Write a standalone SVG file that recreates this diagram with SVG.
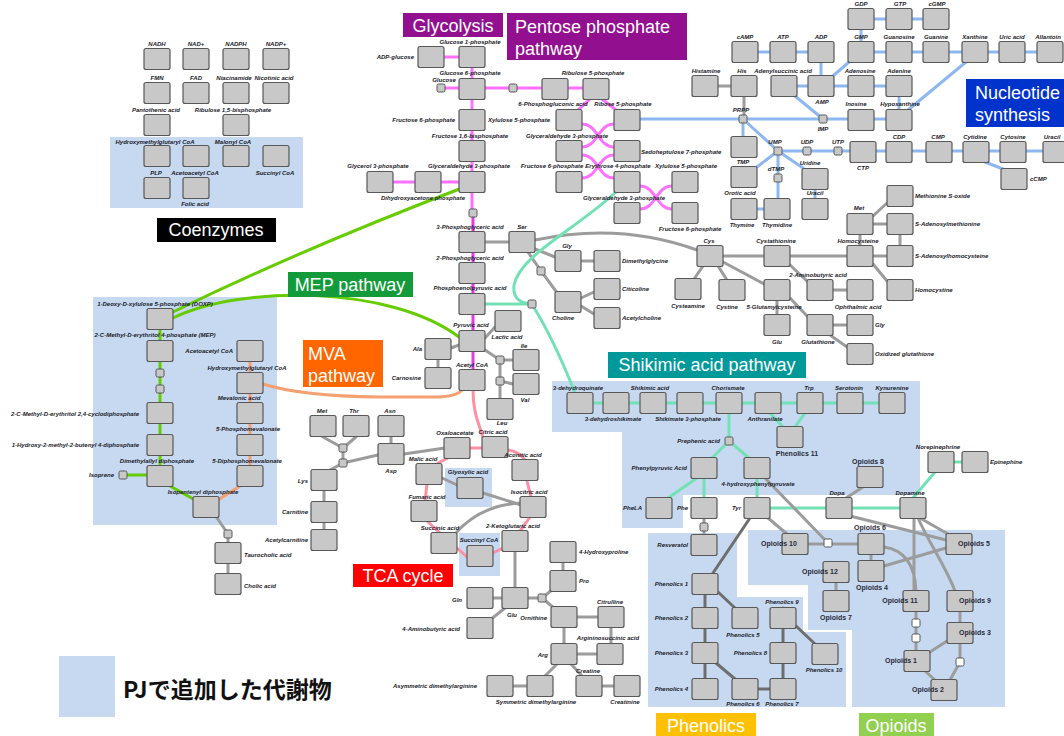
<svg xmlns="http://www.w3.org/2000/svg" width="1064" height="736" viewBox="0 0 1064 736">
<style>
.n{fill:#c8c8c8;stroke:#585858;stroke-width:1.2}
.s{fill:#c8c8c8;stroke:#585858;stroke-width:1}
.w{fill:#ffffff;stroke:#585858;stroke-width:1}
.t{font-family:"Liberation Sans",Arial,sans-serif;font-size:6px;font-weight:bold;font-style:italic;fill:#1a1a28;text-anchor:middle}
.e{text-anchor:end}
.b{text-anchor:start}
.o{font-family:"Liberation Sans",Arial,sans-serif;font-size:7px;font-weight:bold;fill:#2a2a3a;text-anchor:middle}
.rg{fill:#c6d9f0}
.pl{font-family:"Liberation Sans",Arial,sans-serif;fill:#ffffff;font-size:18px}
#connectors path{fill:none;stroke-width:3;stroke-linecap:round}
.gr{stroke:#9c9c9c}
.gd{stroke:#6e6e6e}
.pk{stroke:#ff70ff}
.mg{stroke:#e03ce0}
.tc{stroke:#ff8fa3}
.bl{stroke:#8db8ef}
.tl{stroke:#72e2b6}
.gn{stroke:#66cc00}
.or{stroke:#f5a070}
</style>
<rect width="1064" height="736" fill="#ffffff"/>
<g id="regions">
<rect class="rg" x="110" y="137" width="193" height="71"/>
<rect class="rg" x="93" y="297" width="184" height="228"/>
<rect class="rg" x="445" y="468" width="47" height="39"/>
<rect class="rg" x="459" y="533" width="41" height="43"/>
<polygon class="rg" points="552,381 920,381 920,495 683,495 683,528 622,528 622,432 552,432"/>
<polygon class="rg" points="648,533 737,533 737,597 803,597 803,632 846,632 846,707 648,707"/>
<polygon class="rg" points="748,530 1005,530 1005,707 852,707 852,630 808,630 808,585 748,585"/>
</g>
<g id="connectors">
<path class="pk" d="M431,57 H472 M472,57 V213 M441,88 H596 M380,182 H472 M590,99 L578,110 M602,99 L616,110 M582,124 C598,124 598,147 614,147 M582,147 C598,147 598,124 614,124 M582,155 C598,155 598,178 614,178 M582,178 C598,178 598,155 614,155 M640,186 C656,186 656,209 672,209 M640,209 C656,209 656,186 672,186"/>
<path class="mg" d="M473,213 V380"/>
<path class="tc" d="M473,390 C473,415 480,425 483,438 M470,448 H483 M508,450 Q520,452 525,460 M527,481 L531,497 M530,517 L520,531 M503,548 L493,553 M467,557 L457,548 M440,533 L428,522 M425,501 L427,484 M438,463 L448,458"/>
<path class="gr" d="M442,478 L457,485 M483,493 L521,505 M455,534 Q480,505 521,503 M404,454 L445,448 M323,437 L343,448 M356,437 L343,448 M343,448 V463 L330,470 M343,463 L378,455 M391,437 V444 M324,480 V540"/>
<path class="gr" d="M515,552 V588 M493,598 H502 M505,608 L490,620 M528,598 H542 M542,598 L552,590 M542,598 L554,608 M563,562 V571 M577,617 H598 M611,627 V644 M597,654 H577 M564,627 V644 M557,664 L545,676 M571,664 L582,676 M527,686 H513 M602,686 H614"/>
<path class="gr" d="M485,242 H510 M535,240 Q620,222 697,250 M535,249 L555,257 M528,252 L541,271 L558,294 M581,261 H594 M581,298 L594,292 M581,306 L594,314 M485,338 L495,327 M459,345 L451,348 M438,359 V368 M485,350 L500,360 V381 M500,360 H513 M500,381 L513,384 M500,381 V399"/>
<path class="gr" d="M723,256 H764 M790,256 H847 M873,256 H887 M860,234 V246 M873,224 H887 M900,234 V246 M873,216 L887,203 M873,264 L887,281 M703,266 L694,279 M718,266 L727,280 M723,262 L764,284 M790,265 L807,281 M833,290 H847 M777,300 V315 M790,298 L807,316 M833,325 H847 M830,335 L847,347 M718,86 H731 M744,96 V119"/>
<path class="bl" d="M861,19 H936 M861,29 V42 M745,52 H821 M821,62 V76 M861,52 H1050 M849,62 L833,76 M784,86 H899 M899,96 V110 M908,110 L966,62 M795,96 L823,119 M640,119 H899 M743,119 V137 M743,119 L778,151 M778,151 H1043 M985,162 L1003,169 M778,151 L757,167 M778,151 V199 M764,209 H757 M778,151 L803,168 M815,189 V199"/>
<path class="tl" d="M616,192 C575,230 520,255 514,285 Q512,303 532,304 M485,304 H532 M533,306 C548,330 560,355 575,393 M580,403 H892 M729,413 V441 M770,413 L783,427 M805,413 L795,427 M729,441 L712,458 M729,441 L749,458 M697,478 L668,498 M704,478 V498 M757,478 V498 M757,508 H913 M913,498 L935,472 M941,462 H975"/>
<path class="gr" d="M704,518 V535 M765,478 L828,543 M808,544 H858 M768,518 L787,534 M850,516 L946,540 M920,518 L948,534 M914,518 V591 M918,518 C930,545 945,565 955,591 M863,487 L846,498 M871,554 V561 M884,566 L946,548 M884,547 C905,550 915,565 916,591 M836,582 V591 M916,611 V651 M960,611 V623 M947,641 L930,652 M960,643 V662 L950,680 M925,671 L935,680 M215,515 L228,534 V584"/>
<path class="gd" d="M750,518 L713,573 M705,594 V678 M718,592 L735,608 M716,663 L735,679 M758,689 H770 M783,679 V608 M796,626 L815,644"/>
<path class="gn" d="M160,319 V476 M123,475 H147 M170,486 L195,500 M462,188 Q300,250 173,312 M173,318 C240,285 390,285 459,337"/>
<path class="or" d="M250,351 V476 M240,486 L218,500 M263,384 Q300,396 380,397 L440,397 Q458,396 463,389"/>
</g>
<g id="pathway-labels">
<rect x="403" y="13" width="100" height="24" fill="#92108f"/><text class="pl" x="453" y="32" text-anchor="middle" font-size="19">Glycolysis</text>
<rect x="507" y="13" width="180" height="47" fill="#92108f"/><text class="pl" x="515" y="33" font-size="19">Pentose phosphate</text><text class="pl" x="515" y="55" font-size="19">pathway</text>
<rect x="966" y="79" width="98" height="48" fill="#0033cc"/><text class="pl" x="975" y="99" font-size="19">Nucleotide</text><text class="pl" x="975" y="121" font-size="19">synthesis</text>
<rect x="157" y="218" width="119" height="24" fill="#000000"/><text class="pl" x="216" y="236" text-anchor="middle" font-size="17">Coenzymes</text>
<rect x="288" y="272" width="125" height="25" fill="#139a3a"/><text class="pl" x="350" y="291" text-anchor="middle" font-size="17">MEP pathway</text>
<rect x="303" y="340" width="80" height="47" fill="#ff6600"/><text class="pl" x="308" y="360">MVA</text><text class="pl" x="308" y="382">pathway</text>
<rect x="608" y="352" width="198" height="26" fill="#00999a"/><text class="pl" x="707" y="371" text-anchor="middle">Shikimic acid pathway</text>
<rect x="353" y="564" width="100" height="23" fill="#ff0000"/><text class="pl" x="403" y="582" text-anchor="middle" font-size="17">TCA cycle</text>
<rect x="656" y="713" width="100" height="23" fill="#ffc000"/><text class="pl" x="706" y="732" text-anchor="middle">Phenolics</text>
<rect x="859" y="713" width="75" height="23" fill="#92d050"/><text class="pl" x="896" y="732" text-anchor="middle">Opioids</text>
</g>
<g id="legend">
<rect class="rg" x="59" y="656" width="56" height="61"/>
<text x="123" y="698" font-family="'Noto Sans CJK JP','Noto Sans',sans-serif" font-size="23" font-weight="bold" fill="#111">PJで追加した代謝物</text>
</g>
<g id="nodes">
<g id="n_nadh"><rect class="n" x="144" y="48.5" width="26" height="21" rx="2"/><text class="t" x="157" y="46">NADH</text></g>
<g id="n_nad"><rect class="n" x="183" y="48.5" width="26" height="21" rx="2"/><text class="t" x="196" y="46">NAD+</text></g>
<g id="n_nadph"><rect class="n" x="223" y="48.5" width="26" height="21" rx="2"/><text class="t" x="236" y="46">NADPH</text></g>
<g id="n_nadp"><rect class="n" x="263" y="48.5" width="26" height="21" rx="2"/><text class="t" x="276" y="46">NADP+</text></g>
<g id="n_fmn"><rect class="n" x="144" y="82.5" width="26" height="21" rx="2"/><text class="t" x="157" y="80">FMN</text></g>
<g id="n_fad"><rect class="n" x="183" y="82.5" width="26" height="21" rx="2"/><text class="t" x="196" y="80">FAD</text></g>
<g id="n_niacinamide"><rect class="n" x="223" y="82.5" width="26" height="21" rx="2"/><text class="t" x="234" y="80">Niacinamide</text></g>
<g id="n_nicotinic"><rect class="n" x="263" y="82.5" width="26" height="21" rx="2"/><text class="t" x="274" y="80">Nicotinic acid</text></g>
<g id="n_pantothenic"><rect class="n" x="144" y="114.5" width="26" height="21" rx="2"/><text class="t" x="156" y="112">Pantothenic acid</text></g>
<g id="n_rubp"><rect class="n" x="223" y="114.5" width="26" height="21" rx="2"/><text class="t" x="233" y="112">Ribulose 1,5-bisphosphate</text></g>
<g id="n_hmgcoa_c"><rect class="n" x="144" y="145.5" width="26" height="21" rx="2"/><text class="t" x="155" y="144">Hydroxymethylglutaryl CoA</text></g>
<g id="n_acacoa_c"><rect class="n" x="183" y="145.5" width="26" height="21" rx="2"/><text class="t" x="195" y="175">Acetoacetyl CoA</text></g>
<g id="n_malonyl"><rect class="n" x="223" y="145.5" width="26" height="21" rx="2"/><text class="t" x="233" y="144">Malonyl CoA</text></g>
<g id="n_succcoa_c"><rect class="n" x="263" y="145.5" width="26" height="21" rx="2"/><text class="t" x="275" y="175">Succinyl CoA</text></g>
<g id="n_plp"><rect class="n" x="144" y="177.5" width="26" height="21" rx="2"/><text class="t" x="156" y="175">PLP</text></g>
<g id="n_folic"><rect class="n" x="183" y="177.5" width="26" height="21" rx="2"/><text class="t" x="195" y="206">Folic acid</text></g>

<g id="n_adpglc"><rect class="n" x="418" y="46.5" width="26" height="21" rx="2"/><text class="t e" x="414" y="59">ADP-glucose</text></g>
<g id="n_g1p"><rect class="n" x="459" y="46.5" width="26" height="21" rx="2"/><text class="t" x="470" y="44">Glucose 1-phosphate</text></g>
<g id="n_g6p"><rect class="n" x="459" y="78.5" width="26" height="21" rx="2"/><text class="t" x="470" y="75">Glucose 6-phosphate</text></g>
<g id="n_glucose"><rect class="s" x="437" y="84" width="8" height="8" rx="1.5"/><text class="t" x="444" y="82">Glucose</text></g>
<g id="n_ppp_i"><rect class="s" x="509" y="84" width="8" height="8" rx="1.5"/></g>
<g id="n_6pg"><rect class="n" x="542" y="78.5" width="26" height="21" rx="2"/><text class="t" x="553" y="106">6-Phosphogluconic acid</text></g>
<g id="n_ru5p"><rect class="n" x="583" y="78.5" width="26" height="21" rx="2"/><text class="t" x="593" y="75">Ribulose 5-phosphate</text></g>
<g id="n_f6p"><rect class="n" x="459" y="109.5" width="26" height="21" rx="2"/><text class="t e" x="455" y="122">Fructose 6-phosphate</text></g>
<g id="n_xu5p"><rect class="n" x="556" y="109.5" width="26" height="21" rx="2"/><text class="t e" x="550" y="122">Xylulose 5-phosphate</text></g>
<g id="n_r5p"><rect class="n" x="614" y="109.5" width="26" height="21" rx="2"/><text class="t" x="623" y="106">Ribose 5-phosphate</text></g>
<g id="n_f16bp"><rect class="n" x="459" y="140.5" width="26" height="21" rx="2"/><text class="t" x="470" y="138">Fructose 1,6-bisphosphate</text></g>
<g id="n_gap2"><rect class="n" x="556" y="140.5" width="26" height="21" rx="2"/><text class="t" x="567" y="138">Glyceraldehyde 3-phosphate</text></g>
<g id="n_s7p"><rect class="n" x="614" y="140.5" width="26" height="21" rx="2"/><text class="t b" x="641" y="154">Sedoheptulose 7-phosphate</text></g>
<g id="n_gap"><rect class="n" x="459" y="171.5" width="26" height="21" rx="2"/><text class="t" x="469" y="168">Glyceraldehyde 3-phosphate</text></g>
<g id="n_dhap"><rect class="n" x="415" y="171.5" width="26" height="21" rx="2"/><text class="t" x="423" y="200">Dihydroxyacetone phosphate</text></g>
<g id="n_g3p"><rect class="n" x="367" y="171.5" width="26" height="21" rx="2"/><text class="t" x="378" y="168">Glycerol 3-phosphate</text></g>
<g id="n_f6p2"><rect class="n" x="556" y="171.5" width="26" height="21" rx="2"/><text class="t" x="552" y="168">Fructose 6-phosphate</text></g>
<g id="n_e4p"><rect class="n" x="614" y="171.5" width="26" height="21" rx="2"/><text class="t" x="618" y="168">Erythrose 4-phosphate</text></g>
<g id="n_x5p2"><rect class="n" x="672" y="171.5" width="26" height="21" rx="2"/><text class="t" x="686" y="168">Xylulose 5-phosphate</text></g>
<g id="n_gap3"><rect class="n" x="614" y="202.5" width="26" height="21" rx="2"/><text class="t" x="624" y="200">Glyceraldehyde 3-phosphate</text></g>
<g id="n_f6p3"><rect class="n" x="672" y="202.5" width="26" height="21" rx="2"/><text class="t" x="690" y="231">Fructose 6-phosphate</text></g>
<g id="n_gly_i"><rect class="s" x="469" y="209" width="8" height="8" rx="1.5"/></g>
<g id="n_3pg"><rect class="n" x="459" y="231.5" width="26" height="21" rx="2"/><text class="t" x="470" y="229">3-Phosphoglyceric acid</text></g>
<g id="n_2pg"><rect class="n" x="459" y="262.5" width="26" height="21" rx="2"/><text class="t" x="470" y="260">2-Phosphoglyceric acid</text></g>
<g id="n_pep"><rect class="n" x="459" y="293.5" width="26" height="21" rx="2"/><text class="t" x="470" y="290">Phosphoenolpyruvic acid</text></g>
<g id="n_pyr"><rect class="n" x="459" y="330.5" width="26" height="21" rx="2"/><text class="t" x="471" y="327">Pyruvic acid</text></g>
<g id="n_accoa"><rect class="n" x="459" y="369.5" width="26" height="21" rx="2"/><text class="t" x="472" y="367">Acetyl CoA</text></g>
<g id="n_lactic"><rect class="n" x="495" y="310.5" width="26" height="21" rx="2"/><text class="t" x="507" y="339">Lactic acid</text></g>
<g id="n_ala"><rect class="n" x="425" y="338.5" width="26" height="21" rx="2"/><text class="t e" x="422" y="351">Ala</text></g>
<g id="n_carnosine"><rect class="n" x="425" y="367.5" width="26" height="21" rx="2"/><text class="t e" x="421" y="380">Carnosine</text></g>
<g id="n_bcaa_i1"><rect class="s" x="496" y="356" width="8" height="8" rx="1.5"/></g>
<g id="n_bcaa_i2"><rect class="s" x="496" y="377" width="8" height="8" rx="1.5"/></g>
<g id="n_ile"><rect class="n" x="513" y="349.5" width="26" height="21" rx="2"/><text class="t" x="524" y="348">Ile</text></g>
<g id="n_val"><rect class="n" x="513" y="373.5" width="26" height="21" rx="2"/><text class="t" x="525" y="402">Val</text></g>
<g id="n_leu"><rect class="n" x="487" y="398.5" width="26" height="21" rx="2"/><text class="t" x="502" y="425">Leu</text></g>
<g id="n_ser"><rect class="n" x="509" y="231.5" width="26" height="21" rx="2"/><text class="t" x="522" y="229">Ser</text></g>
<g id="n_gly"><rect class="n" x="555" y="250.5" width="26" height="21" rx="2"/><text class="t" x="567" y="248">Gly</text></g>
<g id="n_dmg"><rect class="n" x="594" y="250.5" width="26" height="21" rx="2"/><text class="t b" x="622" y="263">Dimethylglycine</text></g>
<g id="n_ser_i"><rect class="s" x="537" y="267" width="8" height="8" rx="1.5"/></g>
<g id="n_choline"><rect class="n" x="555" y="291.5" width="26" height="21" rx="2"/><text class="t" x="563" y="320">Choline</text></g>
<g id="n_citicoline"><rect class="n" x="594" y="278.5" width="26" height="21" rx="2"/><text class="t b" x="622" y="291">Citicoline</text></g>
<g id="n_achol"><rect class="n" x="594" y="307.5" width="26" height="21" rx="2"/><text class="t b" x="622" y="320">Acetylcholine</text></g>
<g id="n_pep_i"><rect class="s" x="528" y="300" width="8" height="8" rx="1.5"/></g>
<g id="n_cysteamine"><rect class="n" x="675" y="278.5" width="26" height="21" rx="2"/><text class="t" x="688" y="308">Cysteamine</text></g>
<g id="n_cys"><rect class="n" x="697" y="245.5" width="26" height="21" rx="2"/><text class="t" x="709" y="243">Cys</text></g>
<g id="n_cystathionine"><rect class="n" x="764" y="245.5" width="26" height="21" rx="2"/><text class="t" x="776" y="243">Cystathionine</text></g>
<g id="n_hcy"><rect class="n" x="847" y="245.5" width="26" height="21" rx="2"/><text class="t" x="858" y="243">Homocysteine</text></g>
<g id="n_sah"><rect class="n" x="887" y="245.5" width="26" height="21" rx="2"/><text class="t b" x="915" y="258">S-Adenosylhomocysteine</text></g>
<g id="n_met"><rect class="n" x="847" y="213.5" width="26" height="21" rx="2"/><text class="t" x="859" y="210">Met</text></g>
<g id="n_sam"><rect class="n" x="887" y="213.5" width="26" height="21" rx="2"/><text class="t b" x="915" y="226">S-Adenosylmethionine</text></g>
<g id="n_metso"><rect class="n" x="887" y="185.5" width="26" height="21" rx="2"/><text class="t b" x="915" y="198">Methionine S-oxide</text></g>
<g id="n_homocystine"><rect class="n" x="887" y="279.5" width="26" height="21" rx="2"/><text class="t b" x="915" y="292">Homocystine</text></g>
<g id="n_cystine"><rect class="n" x="719" y="279.5" width="26" height="21" rx="2"/><text class="t" x="727" y="309">Cystine</text></g>
<g id="n_gglucys"><rect class="n" x="764" y="279.5" width="26" height="21" rx="2"/><text class="t" x="774" y="309">5-Glutamylcysteine</text></g>
<g id="n_2ab"><rect class="n" x="807" y="279.5" width="26" height="21" rx="2"/><text class="t" x="818" y="277">2-Aminobutyric acid</text></g>
<g id="n_ophthalmic"><rect class="n" x="847" y="279.5" width="26" height="21" rx="2"/><text class="t" x="858" y="309">Ophthalmic acid</text></g>
<g id="n_glu2"><rect class="n" x="764" y="314.5" width="26" height="21" rx="2"/><text class="t" x="777" y="344">Glu</text></g>
<g id="n_gsh"><rect class="n" x="807" y="314.5" width="26" height="21" rx="2"/><text class="t" x="818" y="344">Glutathione</text></g>
<g id="n_gly2"><rect class="n" x="847" y="314.5" width="26" height="21" rx="2"/><text class="t b" x="875" y="327">Gly</text></g>
<g id="n_gssg"><rect class="n" x="847" y="343.5" width="26" height="21" rx="2"/><text class="t b" x="875" y="356">Oxidized glutathione</text></g>

<g id="n_gdp"><rect class="n" x="848" y="8.5" width="26" height="21" rx="2"/><text class="t" x="861" y="6">GDP</text></g>
<g id="n_gtp"><rect class="n" x="886" y="8.5" width="26" height="21" rx="2"/><text class="t" x="900" y="6">GTP</text></g>
<g id="n_cgmp"><rect class="n" x="923" y="8.5" width="26" height="21" rx="2"/><text class="t" x="937" y="6">cGMP</text></g>
<g id="n_camp"><rect class="n" x="732" y="41.5" width="26" height="21" rx="2"/><text class="t" x="745" y="39">cAMP</text></g>
<g id="n_atp"><rect class="n" x="770" y="41.5" width="26" height="21" rx="2"/><text class="t" x="783" y="39">ATP</text></g>
<g id="n_adp"><rect class="n" x="808" y="41.5" width="26" height="21" rx="2"/><text class="t" x="821" y="39">ADP</text></g>
<g id="n_gmp"><rect class="n" x="848" y="41.5" width="26" height="21" rx="2"/><text class="t" x="861" y="39">GMP</text></g>
<g id="n_guanosine"><rect class="n" x="886" y="41.5" width="26" height="21" rx="2"/><text class="t" x="899" y="39">Guanosine</text></g>
<g id="n_guanine"><rect class="n" x="923" y="41.5" width="26" height="21" rx="2"/><text class="t" x="936" y="39">Guanine</text></g>
<g id="n_xanthine"><rect class="n" x="962" y="41.5" width="26" height="21" rx="2"/><text class="t" x="975" y="39">Xanthine</text></g>
<g id="n_uric"><rect class="n" x="999" y="41.5" width="26" height="21" rx="2"/><text class="t" x="1012" y="39">Uric acid</text></g>
<g id="n_allantoin"><rect class="n" x="1037" y="41.5" width="26" height="21" rx="2"/><text class="t" x="1048" y="39">Allantoin</text></g>
<g id="n_histamine"><rect class="n" x="692" y="75.5" width="26" height="21" rx="2"/><text class="t" x="706" y="73">Histamine</text></g>
<g id="n_his"><rect class="n" x="731" y="75.5" width="26" height="21" rx="2"/><text class="t" x="742" y="73">His</text></g>
<g id="n_adsucc"><rect class="n" x="771" y="75.5" width="26" height="21" rx="2"/><text class="t" x="783" y="73">Adenylsuccinic acid</text></g>
<g id="n_amp"><rect class="n" x="808" y="75.5" width="26" height="21" rx="2"/><text class="t" x="822" y="104">AMP</text></g>
<g id="n_adenosine"><rect class="n" x="848" y="75.5" width="26" height="21" rx="2"/><text class="t" x="860" y="73">Adenosine</text></g>
<g id="n_adenine"><rect class="n" x="886" y="75.5" width="26" height="21" rx="2"/><text class="t" x="899" y="73">Adenine</text></g>
<g id="n_inosine"><rect class="n" x="848" y="109.5" width="26" height="21" rx="2"/><text class="t" x="856" y="106">Inosine</text></g>
<g id="n_hypoxanthine"><rect class="n" x="886" y="109.5" width="26" height="21" rx="2"/><text class="t" x="900" y="106">Hypoxanthine</text></g>
<g id="n_prpp"><rect class="s" x="739" y="115" width="8" height="8" rx="1.5"/><text class="t" x="741" y="112">PRPP</text></g>
<g id="n_imp"><rect class="s" x="819" y="115" width="8" height="8" rx="1.5"/><text class="t" x="823" y="131">IMP</text></g>
<g id="n_omp"><rect class="n" x="731" y="136.5" width="26" height="21" rx="2"/></g>
<g id="n_tmp"><rect class="n" x="731" y="166.5" width="26" height="21" rx="2"/><text class="t" x="743" y="164">TMP</text></g>
<g id="n_thymine"><rect class="n" x="731" y="198.5" width="26" height="21" rx="2"/><text class="t" x="740" y="195">Orotic acid</text><text class="t" x="742" y="227">Thymine</text></g>
<g id="n_ump"><rect class="s" x="774" y="147" width="8" height="8" rx="1.5"/><text class="t" x="775" y="144">UMP</text></g>
<g id="n_udp"><rect class="s" x="803" y="147" width="8" height="8" rx="1.5"/><text class="t" x="807" y="144">UDP</text></g>
<g id="n_utp"><rect class="s" x="834" y="147" width="8" height="8" rx="1.5"/><text class="t" x="838" y="144">UTP</text></g>
<g id="n_dtmp"><rect class="s" x="774" y="174" width="8" height="8" rx="1.5"/><text class="t" x="776" y="171">dTMP</text></g>
<g id="n_thymidine"><rect class="n" x="764" y="198.5" width="26" height="21" rx="2"/><text class="t" x="777" y="227">Thymidine</text></g>
<g id="n_uridine"><rect class="n" x="802" y="168.5" width="26" height="21" rx="2"/><text class="t" x="810" y="165">Uridine</text></g>
<g id="n_uracil"><rect class="n" x="802" y="198.5" width="26" height="21" rx="2"/><text class="t" x="815" y="195">Uracil</text></g>
<g id="n_ctp"><rect class="n" x="850" y="141.5" width="26" height="21" rx="2"/><text class="t" x="863" y="170">CTP</text></g>
<g id="n_cdp"><rect class="n" x="886" y="141.5" width="26" height="21" rx="2"/><text class="t" x="899" y="139">CDP</text></g>
<g id="n_cmp"><rect class="n" x="926" y="141.5" width="26" height="21" rx="2"/><text class="t" x="938" y="139">CMP</text></g>
<g id="n_cytidine"><rect class="n" x="963" y="141.5" width="26" height="21" rx="2"/><text class="t" x="975" y="139">Cytidine</text></g>
<g id="n_cytosine"><rect class="n" x="1000" y="141.5" width="26" height="21" rx="2"/><text class="t" x="1013" y="139">Cytosine</text></g>
<g id="n_uracil2"><rect class="n" x="1043" y="141.5" width="26" height="21" rx="2"/><text class="t" x="1052" y="139">Uracil</text></g>
<g id="n_ccmp"><rect class="n" x="1001" y="168.5" width="26" height="21" rx="2"/><text class="t b" x="1030" y="181">cCMP</text></g>

<g id="n_3dhq"><rect class="n" x="567" y="392.5" width="26" height="21" rx="2"/><text class="t" x="578" y="390">3-dehydroquinate</text></g>
<g id="n_3dhs"><rect class="n" x="603" y="392.5" width="26" height="21" rx="2"/><text class="t" x="613" y="421">3-dehydroshikimate</text></g>
<g id="n_shikimic"><rect class="n" x="640" y="392.5" width="26" height="21" rx="2"/><text class="t" x="650" y="390">Shikimic acid</text></g>
<g id="n_s3p"><rect class="n" x="677" y="392.5" width="26" height="21" rx="2"/><text class="t" x="688" y="421">Shikimate 3-phosphate</text></g>
<g id="n_chorismate"><rect class="n" x="716" y="392.5" width="26" height="21" rx="2"/><text class="t" x="728" y="390">Chorismate</text></g>
<g id="n_anthranilate"><rect class="n" x="755" y="392.5" width="26" height="21" rx="2"/><text class="t" x="765" y="421">Anthranilate</text></g>
<g id="n_trp"><rect class="n" x="797" y="392.5" width="26" height="21" rx="2"/><text class="t" x="809" y="390">Trp</text></g>
<g id="n_serotonin"><rect class="n" x="837" y="392.5" width="26" height="21" rx="2"/><text class="t" x="849" y="390">Serotonin</text></g>
<g id="n_kynurenine"><rect class="n" x="879" y="392.5" width="26" height="21" rx="2"/><text class="t" x="892" y="390">Kynurenine</text></g>
<g id="n_ph11"><rect class="n" x="777" y="426.5" width="26" height="21" rx="2"/><text class="o" x="797" y="456">Phenolics 11</text></g>
<g id="n_prephenic"><rect class="s" x="725" y="437" width="8" height="8" rx="1.5"/><text class="t e" x="720" y="443">Prephenic acid</text></g>
<g id="n_ppa"><rect class="n" x="691" y="457.5" width="26" height="21" rx="2"/><text class="t e" x="687" y="470">Phenylpyruvic Acid</text></g>
<g id="n_4hpp"><rect class="n" x="744" y="457.5" width="26" height="21" rx="2"/><text class="t" x="758" y="486">4-hydroxyphenylpyruvate</text></g>
<g id="n_phela"><rect class="n" x="646" y="497.5" width="26" height="21" rx="2"/><text class="t e" x="642" y="510">PheLA</text></g>
<g id="n_phe"><rect class="n" x="691" y="497.5" width="26" height="21" rx="2"/><text class="t e" x="688" y="510">Phe</text></g>
<g id="n_tyr"><rect class="n" x="744" y="497.5" width="26" height="21" rx="2"/><text class="t e" x="741" y="510">Tyr</text></g>
<g id="n_dopa"><rect class="n" x="826" y="497.5" width="26" height="21" rx="2"/><text class="t" x="837" y="495">Dopa</text></g>
<g id="n_dopamine"><rect class="n" x="900" y="497.5" width="26" height="21" rx="2"/><text class="t" x="910" y="495">Dopamine</text></g>
<g id="n_op8"><rect class="n" x="857" y="466.5" width="26" height="21" rx="2"/><text class="o" x="868" y="464">Opioids 8</text></g>
<g id="n_norepi"><rect class="n" x="928" y="451.5" width="26" height="21" rx="2"/><text class="t" x="938" y="449">Norepinephrine</text></g>
<g id="n_epi"><rect class="n" x="962" y="451.5" width="26" height="21" rx="2"/><text class="t b" x="990" y="464">Epinephine</text></g>
<g id="n_phe_i"><rect class="s" x="700" y="523" width="8" height="8" rx="1.5"/></g>
<g id="n_resveratol"><rect class="n" x="691" y="534.5" width="26" height="21" rx="2"/><text class="t e" x="688" y="547">Resveratol</text></g>

<g id="n_ph1"><rect class="n" x="692" y="573.5" width="26" height="21" rx="2"/><text class="t e" x="688" y="586">Phenolics 1</text></g>
<g id="n_ph2"><rect class="n" x="692" y="607.5" width="26" height="21" rx="2"/><text class="t e" x="688" y="620">Phenolics 2</text></g>
<g id="n_ph5"><rect class="n" x="732" y="607.5" width="26" height="21" rx="2"/><text class="t" x="743" y="637">Phenolics 5</text></g>
<g id="n_ph3"><rect class="n" x="692" y="642.5" width="26" height="21" rx="2"/><text class="t e" x="688" y="655">Phenolics 3</text></g>
<g id="n_ph4"><rect class="n" x="692" y="678.5" width="26" height="21" rx="2"/><text class="t e" x="688" y="691">Phenolics 4</text></g>
<g id="n_ph6"><rect class="n" x="732" y="678.5" width="26" height="21" rx="2"/><text class="t" x="743" y="706">Phenolics 6</text></g>
<g id="n_ph7"><rect class="n" x="770" y="678.5" width="26" height="21" rx="2"/><text class="t" x="782" y="706">Phenolics 7</text></g>
<g id="n_ph8"><rect class="n" x="770" y="642.5" width="26" height="21" rx="2"/><text class="t e" x="767" y="655">Phenolics 8</text></g>
<g id="n_ph9"><rect class="n" x="770" y="607.5" width="26" height="21" rx="2"/><text class="t" x="782" y="604">Phenolics 9</text></g>
<g id="n_ph10"><rect class="n" x="812" y="643.5" width="26" height="21" rx="2"/><text class="t" x="824" y="672">Phenolics 10</text></g>

<g id="n_op10"><rect class="n" x="782" y="533.5" width="26" height="21" rx="2"/><text class="o e" x="779" y="546">Opioids 10</text></g>
<g id="n_op_i1"><rect class="w" x="824" y="539" width="8" height="8" rx="1.5"/></g>
<g id="n_op6"><rect class="n" x="858" y="533.5" width="26" height="21" rx="2"/><text class="o" x="870" y="530">Opioids 6</text></g>
<g id="n_op4"><rect class="n" x="858" y="560.5" width="26" height="21" rx="2"/><text class="o" x="872" y="590">Opioids 4</text></g>
<g id="n_op5"><rect class="n" x="946" y="533.5" width="26" height="21" rx="2"/><text class="o b" x="974" y="546">Opioids 5</text></g>
<g id="n_op12"><rect class="n" x="823" y="561.5" width="26" height="21" rx="2"/><text class="o e" x="820" y="574">Opioids 12</text></g>
<g id="n_op7"><rect class="n" x="823" y="590.5" width="26" height="21" rx="2"/><text class="o" x="836" y="620">Opioids 7</text></g>
<g id="n_op11"><rect class="n" x="903" y="590.5" width="26" height="21" rx="2"/><text class="o e" x="900" y="603">Opioids 11</text></g>
<g id="n_op9"><rect class="n" x="947" y="590.5" width="26" height="21" rx="2"/><text class="o b" x="975" y="603">Opioids 9</text></g>
<g id="n_op_i2"><rect class="w" x="912" y="619" width="8" height="8" rx="1.5"/></g>
<g id="n_op_i3"><rect class="w" x="912" y="634" width="8" height="8" rx="1.5"/></g>
<g id="n_op3"><rect class="n" x="947" y="622.5" width="26" height="21" rx="2"/><text class="o b" x="975" y="635">Opioids 3</text></g>
<g id="n_op_i4"><rect class="w" x="956" y="658" width="8" height="8" rx="1.5"/></g>
<g id="n_op1"><rect class="n" x="904" y="650.5" width="26" height="21" rx="2"/><text class="o e" x="901" y="663">Opioids 1</text></g>
<g id="n_op2"><rect class="n" x="931" y="679.5" width="26" height="21" rx="2"/><text class="o e" x="928" y="692">Opioids 2</text></g>

<g id="n_oaa"><rect class="n" x="444" y="437.5" width="26" height="21" rx="2"/><text class="t" x="455" y="435">Oxaloacetate</text></g>
<g id="n_citric"><rect class="n" x="482" y="436.5" width="26" height="21" rx="2"/><text class="t" x="493" y="434">Citric acid</text></g>
<g id="n_aconitic"><rect class="n" x="512" y="459.5" width="26" height="21" rx="2"/><text class="t" x="523" y="457">Aconitic acid</text></g>
<g id="n_isocitric"><rect class="n" x="520" y="496.5" width="26" height="21" rx="2"/><text class="t" x="529" y="494">Isocitric acid</text></g>
<g id="n_2kg"><rect class="n" x="502" y="530.5" width="26" height="21" rx="2"/><text class="t" x="513" y="528">2-Ketoglutaric acid</text></g>
<g id="n_succcoa"><rect class="n" x="467" y="545.5" width="26" height="21" rx="2"/><text class="t" x="479" y="542">Succinyl CoA</text></g>
<g id="n_succinic"><rect class="n" x="431" y="532.5" width="26" height="21" rx="2"/><text class="t" x="440" y="530">Succinic acid</text></g>
<g id="n_fumaric"><rect class="n" x="411" y="500.5" width="26" height="21" rx="2"/><text class="t" x="427" y="499">Fumaric acid</text></g>
<g id="n_malic"><rect class="n" x="416" y="463.5" width="26" height="21" rx="2"/><text class="t" x="423" y="461">Malic acid</text></g>
<g id="n_glyoxylic"><rect class="n" x="457" y="477.5" width="26" height="21" rx="2"/><text class="t" x="468" y="474">Glyoxylic acid</text></g>
<g id="n_asn"><rect class="n" x="378" y="415.5" width="26" height="21" rx="2"/><text class="t" x="390" y="413">Asn</text></g>
<g id="n_asp"><rect class="n" x="378" y="443.5" width="26" height="21" rx="2"/><text class="t" x="391" y="473">Asp</text></g>
<g id="n_met3"><rect class="n" x="310" y="415.5" width="26" height="21" rx="2"/><text class="t" x="322" y="413">Met</text></g>
<g id="n_thr"><rect class="n" x="343" y="415.5" width="26" height="21" rx="2"/><text class="t" x="354" y="413">Thr</text></g>
<g id="n_lys_i1"><rect class="s" x="339" y="444" width="8" height="8" rx="1.5"/></g>
<g id="n_lys_i2"><rect class="s" x="339" y="459" width="8" height="8" rx="1.5"/></g>
<g id="n_lys"><rect class="n" x="311" y="469.5" width="26" height="21" rx="2"/><text class="t e" x="308" y="483">Lys</text></g>
<g id="n_carnitine"><rect class="n" x="311" y="501.5" width="26" height="21" rx="2"/><text class="t e" x="308" y="514">Carnitine</text></g>
<g id="n_acarnitine"><rect class="n" x="311" y="529.5" width="26" height="21" rx="2"/><text class="t e" x="308" y="542">Acetylcarnitine</text></g>

<g id="n_glu3"><rect class="n" x="502" y="587.5" width="26" height="21" rx="2"/><text class="t" x="512" y="617">Glu</text></g>
<g id="n_gln"><rect class="n" x="467" y="587.5" width="26" height="21" rx="2"/><text class="t e" x="462" y="602">Gln</text></g>
<g id="n_gaba"><rect class="n" x="467" y="617.5" width="26" height="21" rx="2"/><text class="t e" x="460" y="631">4-Aminobutyric acid</text></g>
<g id="n_glu_i"><rect class="s" x="538" y="594" width="8" height="8" rx="1.5"/></g>
<g id="n_pro"><rect class="n" x="550" y="570.5" width="26" height="21" rx="2"/><text class="t b" x="579" y="583">Pro</text></g>
<g id="n_hyp"><rect class="n" x="550" y="541.5" width="26" height="21" rx="2"/><text class="t b" x="579" y="554">4-Hydroxyproline</text></g>
<g id="n_ornithine"><rect class="n" x="551" y="606.5" width="26" height="21" rx="2"/><text class="t e" x="547" y="620">Ornithine</text></g>
<g id="n_citrulline"><rect class="n" x="598" y="606.5" width="26" height="21" rx="2"/><text class="t" x="610" y="604">Citrulline</text></g>
<g id="n_asa"><rect class="n" x="597" y="643.5" width="26" height="21" rx="2"/><text class="t" x="608" y="640">Argininosuccinic acid</text></g>
<g id="n_arg"><rect class="n" x="551" y="643.5" width="26" height="21" rx="2"/><text class="t e" x="548" y="657">Arg</text></g>
<g id="n_creatine"><rect class="n" x="576" y="675.5" width="26" height="21" rx="2"/><text class="t" x="588" y="673">Creatine</text></g>
<g id="n_creatinine"><rect class="n" x="614" y="675.5" width="26" height="21" rx="2"/><text class="t" x="625" y="704">Creatinine</text></g>
<g id="n_sdma"><rect class="n" x="527" y="675.5" width="26" height="21" rx="2"/><text class="t" x="536" y="704">Symmetric dimethylarginine</text></g>
<g id="n_adma"><rect class="n" x="487" y="675.5" width="26" height="21" rx="2"/><text class="t e" x="477" y="688">Asymmetric dimethylarginine</text></g>

<g id="n_doxp"><rect class="n" x="147" y="308.5" width="26" height="21" rx="2"/><text class="t" x="155" y="306">1-Deoxy-D-xylulose 5-phosphate (DOXP)</text></g>
<g id="n_mep"><rect class="n" x="147" y="340.5" width="26" height="21" rx="2"/><text class="t" x="155" y="337">2-C-Methyl-D-erythritol 4-phosphate (MEP)</text></g>
<g id="n_mep_i1"><rect class="s" x="156" y="369" width="8" height="8" rx="1.5"/></g>
<g id="n_mep_i2"><rect class="s" x="156" y="385" width="8" height="8" rx="1.5"/></g>
<g id="n_mecpp"><rect class="n" x="147" y="402.5" width="26" height="21" rx="2"/><text class="t e" x="139" y="416">2-C-Methyl-D-erythritol 2,4-cyclodiphosphate</text></g>
<g id="n_hmbpp"><rect class="n" x="147" y="434.5" width="26" height="21" rx="2"/><text class="t e" x="139" y="447">1-Hydroxy-2-methyl-2-butenyl 4-diphosphate</text></g>
<g id="n_dmapp"><rect class="n" x="147" y="465.5" width="26" height="21" rx="2"/><text class="t" x="157" y="463">Dimethylallyl diphosphate</text></g>
<g id="n_isoprene"><rect class="s" x="119" y="471" width="8" height="8" rx="1.5"/><text class="t e" x="114" y="477">Isoprene</text></g>
<g id="n_ipp"><rect class="n" x="193" y="496.5" width="26" height="21" rx="2"/><text class="t" x="203" y="494">Isopentenyl diphosphate</text></g>
<g id="n_acacoa"><rect class="n" x="237" y="340.5" width="26" height="21" rx="2"/><text class="t e" x="233" y="353">Acetoacetyl CoA</text></g>
<g id="n_hmgcoa"><rect class="n" x="237" y="372.5" width="26" height="21" rx="2"/><text class="t" x="247" y="370" font-size="5">Hydroxymethylglutaryl CoA</text></g>
<g id="n_mev"><rect class="n" x="237" y="402.5" width="26" height="21" rx="2"/><text class="t" x="239" y="400">Mevalonic acid</text></g>
<g id="n_5pm"><rect class="n" x="237" y="434.5" width="26" height="21" rx="2"/><text class="t" x="248" y="431">5-Phosphomevalonate</text></g>
<g id="n_5ppm"><rect class="n" x="237" y="465.5" width="26" height="21" rx="2"/><text class="t" x="247" y="463">5-Diphosphomevalonate</text></g>
<g id="n_ipp_i"><rect class="s" x="224" y="530" width="8" height="8" rx="1.5"/></g>
<g id="n_taurocholic"><rect class="n" x="215" y="542.5" width="26" height="21" rx="2"/><text class="t b" x="244" y="557">Taurocholic acid</text></g>
<g id="n_cholic"><rect class="n" x="215" y="573.5" width="26" height="21" rx="2"/><text class="t b" x="244" y="588">Cholic acid</text></g>
</g>
</svg>
